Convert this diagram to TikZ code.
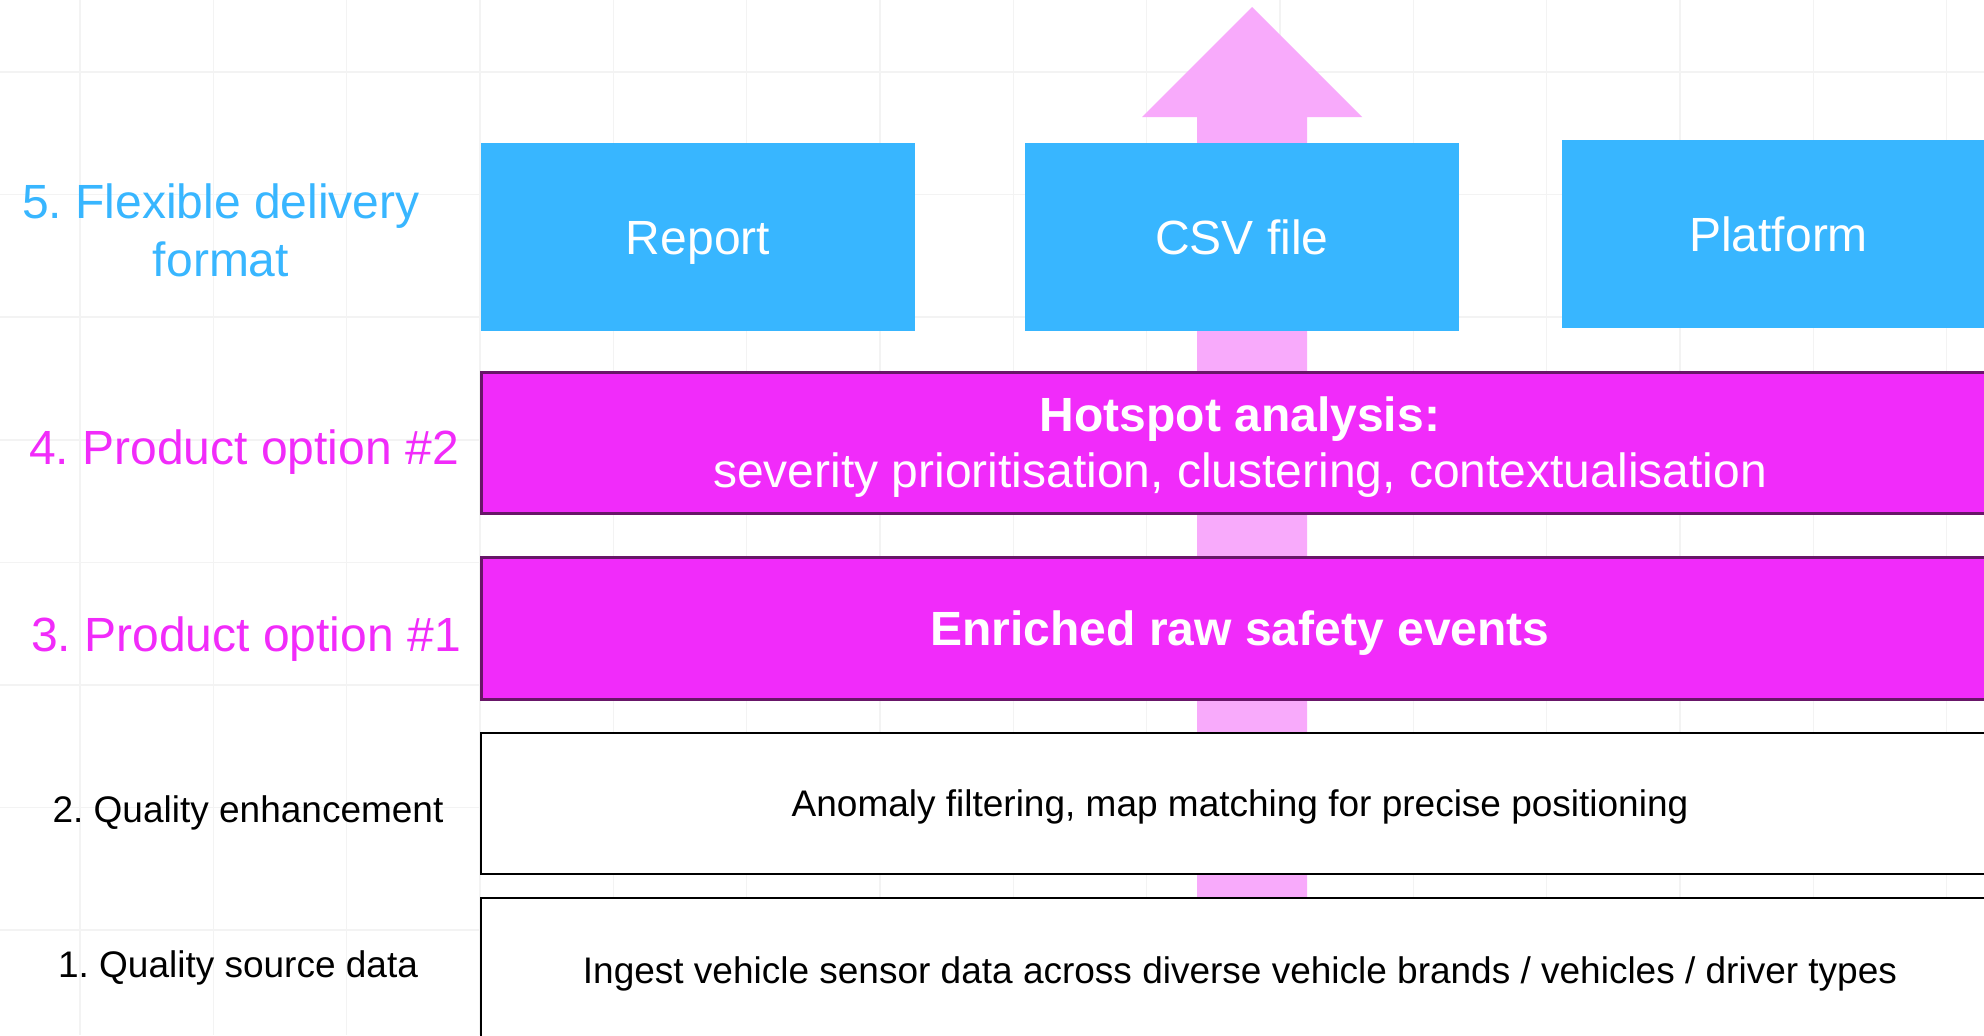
\documentclass[tikz,border=0pt]{standalone}
\usepackage{fontspec}
\setmainfont{Liberation Sans}
\frenchspacing
\usepackage{tikz}
\usetikzlibrary{positioning}
\definecolor{deliveryblue}{RGB}{56,182,255}
\definecolor{optionpink}{RGB}{241,43,250}
\definecolor{optionedge}{RGB}{104,22,104}
\definecolor{flowpink}{RGB}{248,170,251}
\definecolor{gridgrey}{RGB}{243,243,243}
\newcommand{\headsize}{\fontsize{24}{28}\selectfont}
\newcommand{\rowsize}{\fontsize{18.5}{22}\selectfont}
\tikzset{
	format/.style={fill=deliveryblue, text=white, minimum width=217pt, minimum height=94pt, inner sep=0pt, text height=17.3pt, text depth=0pt, font=\headsize},
	option/.style={fill=optionpink, draw=optionedge, line width=1.5pt, text=white, minimum width=759pt, minimum height=70.5pt, align=center, text height=17.3pt, text depth=0pt, font=\headsize},
	stage/.style={fill=white, draw=black, line width=1.3pt, minimum width=759pt, minimum height=70.5pt, text height=13.3pt, text depth=0pt, font=\rowsize},
	level/.style={anchor=base, align=center, inner sep=0pt},
	gridline/.style={draw=gridgrey, line width=0.75pt}
}

\begin{document}
\begin{tikzpicture}[x=0.5pt, y=-0.5pt, node distance=54.5pt]
	\path[use as bounding box, fill=white] (0,0) rectangle (1984,1035);
	\clip (0,0) rectangle (1984,1035);
	% background grid
	\foreach \gx in {0,...,14}
		\draw[gridline] ({80+133.33*\gx},0) -- ({80+133.33*\gx},1035);
	\foreach \gy in {0,...,7}
		\draw[gridline] (0,{72+122.6*\gy}) -- (1984,{72+122.6*\gy});
	% the big upward arrow behind the layers
	\fill[flowpink]	(1197,898) -- (1197,117) -- (1142,117) -- (1252,7)
					-- (1362,117) -- (1307,117) -- (1307,898) -- cycle;
	% delivery formats
	\node (report)		[format]							at (698,237)	{Report};
	\node (csv)			[format, right=of report]						{CSV file};
	\node (platform)	[format, right=51pt of csv, yshift=1.5pt]		{Platform};
	% product layers (two-line box: height counted from the last baseline)
	\node (hotspot)		[option, text height=45.3pt]		at (1240,442.5)	{\textbf{Hotspot analysis:}\\severity prioritisation, clustering, contextualisation};
	\node (enriched)	[option, minimum height=71pt]		at (1240,628)	{\textbf{Enriched raw safety events}};
	\node (enhance)		[stage]								at (1240,803.5)	{Anomaly filtering, map matching for precise positioning};
	\node (source)		[stage, minimum height=72pt]		at (1240,970)	{Ingest vehicle sensor data across diverse vehicle brands / vehicles / driver types};
	% level captions (base = last line)
	\node (lvlformat)	[level, text=deliveryblue, font=\fontsize{24}{29}\selectfont]	at (221,276)	{5. Flexible delivery\\format};
	\node (lvlopttwo)	[level, text=optionpink, font=\headsize]	at (244,464)	{4. Product option \#2};
	\node (lvloptone)	[level, text=optionpink, font=\headsize]	at (246,651)	{3. Product option \#1};
	\node (lvlenhance)	[level, font=\rowsize]						at (248,822)	{2. Quality enhancement};
	\node (lvlsource)	[level, font=\rowsize]						at (238,977)	{1. Quality source data};
\end{tikzpicture}
\end{document}
